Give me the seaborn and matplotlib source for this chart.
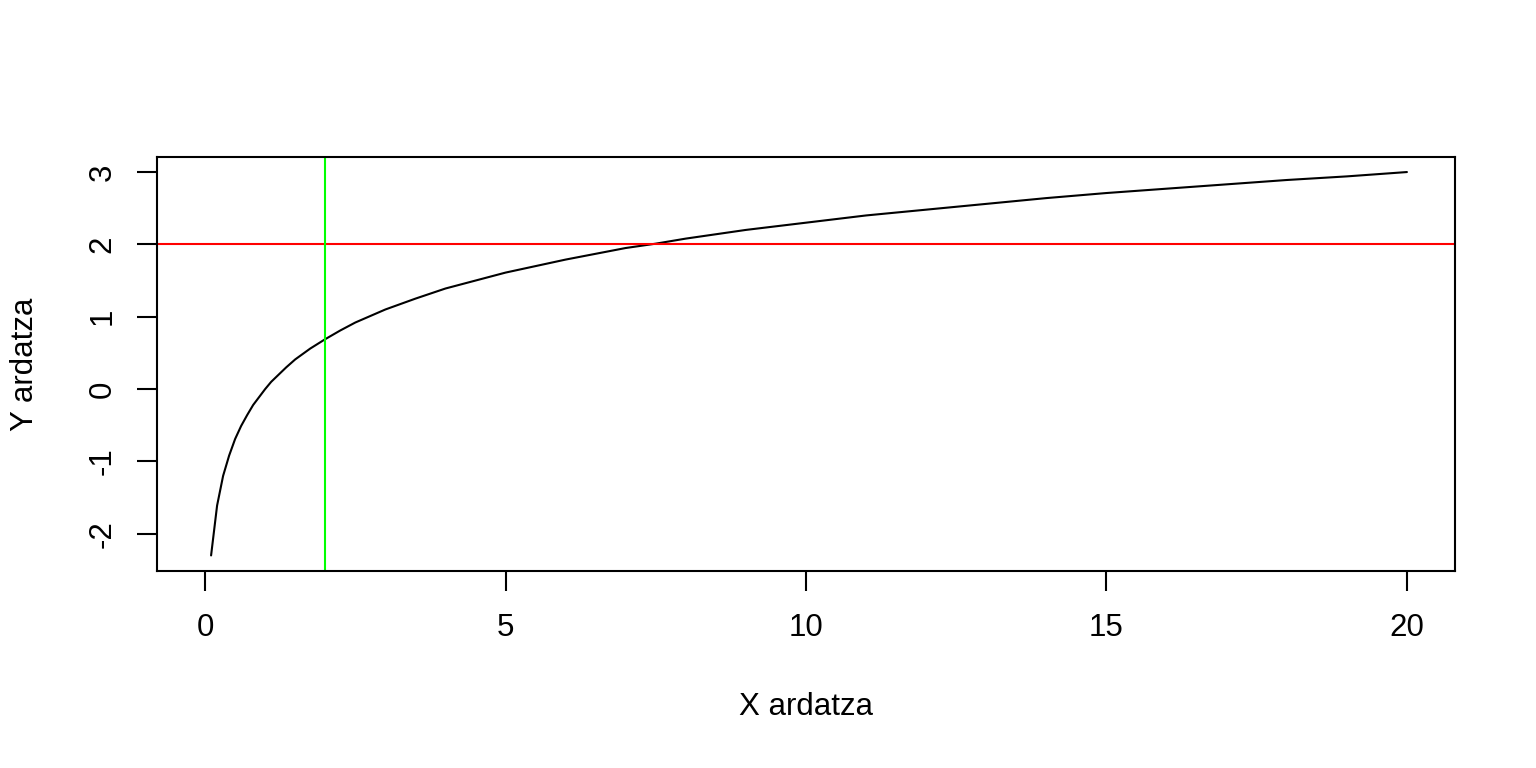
import matplotlib
matplotlib.use("Agg")
import matplotlib.pyplot as plt
import seaborn as sns
import pandas as pd

# values
x_vals = [0.1, 0.2, 0.3, 0.4, 0.5, 0.6, 0.7, 0.8, 0.9, 1.0, 1.1, 1.2, 1.35,
          1.5, 1.75, 2.0, 2.25, 2.5, 2.75, 3.0, 3.5, 4.0, 4.5, 5.0, 5.5, 6.0,
          6.5, 7.0, 7.5, 8.0, 9.0, 10.0, 11.0, 12.0, 13.0, 14.0, 15.0, 16.0,
          17.0, 18.0, 19.0, 20.0]
y_vals = [-2.30, -1.61, -1.20, -0.92, -0.69, -0.51, -0.36, -0.22, -0.11, 0.00,
          0.10, 0.18, 0.30, 0.41, 0.56, 0.69, 0.81, 0.92, 1.01, 1.10, 1.25,
          1.39, 1.50, 1.61, 1.70, 1.79, 1.87, 1.95, 2.01, 2.08, 2.20, 2.30,
          2.40, 2.48, 2.56, 2.64, 2.71, 2.77, 2.83, 2.89, 2.94, 3.00]
h_line = 2
v_line = 2
x_ticks = [0, 5, 10, 15, 20]
y_ticks = [-2, -1, 0, 1, 2, 3]

df = pd.DataFrame({"x": x_vals, "y": y_vals})

sns.set_style("white")
plt.rcParams["font.family"] = ["Liberation Sans", "DejaVu Sans"]

fig = plt.figure(figsize=(15.36, 7.68), dpi=100)
ax = fig.add_axes([157 / 1536, 1 - 571 / 768, 1298 / 1536, 414 / 768])

sns.lineplot(x="x", y="y", data=df, color="black", linewidth=1.5, ax=ax,
             estimator=None, sort=False)
ax.axhline(h_line, color="#FF0000", linewidth=1.5)
ax.axvline(v_line, color="#00FF00", linewidth=1.5)

ax.set_xlim(-0.8, 20.8)
ax.set_ylim(-2.515, 3.208)
ax.set_xticks(x_ticks)
ax.set_yticks(y_ticks)
ax.set_xticklabels([str(t) for t in x_ticks])
ax.set_yticklabels([str(t) for t in y_ticks])

for s in ax.spines.values():
    s.set_visible(True)
    s.set_color("black")
    s.set_linewidth(1.5)

ax.tick_params(axis="both", direction="out", length=14.4, width=1.5,
               color="black", labelsize=22.5, labelcolor="black")
ax.tick_params(axis="x", pad=16, bottom=True)
ax.tick_params(axis="y", pad=14, left=True, labelrotation=90)
for lab in ax.get_yticklabels():
    lab.set_va("center")

ax.set_xlabel("X ardatza", fontsize=22.5, va="center", color="black")
ax.set_ylabel("Y ardatza", fontsize=22.5, va="center", color="black")
ax.xaxis.set_label_coords(0.5, (571 - 707) / 414)
ax.yaxis.set_label_coords((25 - 157) / 1298, 0.5)

fig.savefig("out.png", dpi=100, facecolor="white")
